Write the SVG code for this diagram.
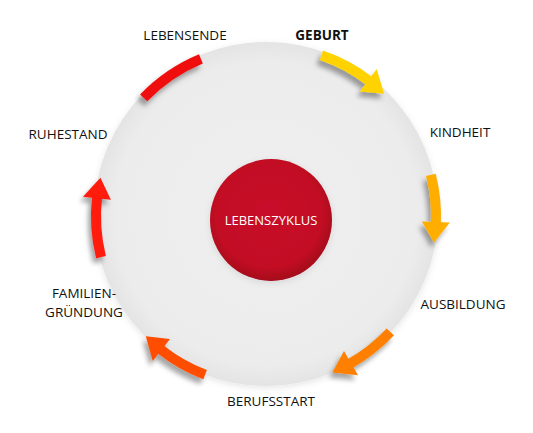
<svg xmlns="http://www.w3.org/2000/svg" width="533" height="433" viewBox="0 0 533 433">
<defs>
<radialGradient id="disc" cx="0.5" cy="0.5" r="0.5">
<stop offset="0" stop-color="#efefef"/>
<stop offset="0.88" stop-color="#ececec"/>
<stop offset="1" stop-color="#e4e4e4"/>
</radialGradient>
<radialGradient id="red" cx="0.48" cy="0.45" r="0.55">
<stop offset="0" stop-color="#c8102a"/>
<stop offset="0.8" stop-color="#c20d24"/>
<stop offset="1" stop-color="#a4071a"/>
</radialGradient>
<filter id="sh" x="-30%" y="-30%" width="160%" height="160%">
<feDropShadow dx="-3" dy="5" stdDeviation="2.5" flood-color="#000" flood-opacity="0.35"/>
</filter>
<filter id="soft" x="-20%" y="-20%" width="140%" height="140%">
<feDropShadow dx="0" dy="2" stdDeviation="3" flood-color="#000" flood-opacity="0.1"/>
</filter>
</defs>
<style>
.lbl{font-family:"Open Sans","Noto Sans","Liberation Sans",sans-serif;font-size:13.5px;fill:#111;text-anchor:middle}
.shaft{fill:none;stroke-width:10;stroke-linecap:butt}
</style>
<rect width="533" height="433" fill="#fff"/>
<g id="disc-node">
<circle cx="266" cy="214" r="172" fill="url(#disc)" filter="url(#soft)"/>
</g>
<g id="center">
<circle cx="271" cy="220" r="61" fill="url(#red)" filter="url(#soft)"/>
<text x="271" y="225" class="lbl" style="fill:#fff;font-size:13px">LEBENSZYKLUS</text>
</g>
<g id="connectors">
<g filter="url(#sh)" fill="#ffd200" stroke="#ffd200">
<path class="shaft" d="M321.4 55.3 A170 170 0 0 1 369.5 81.1"/>
<polygon stroke="none" points="359.9,91.4 376.7,69.1 384.1,93.7"/>
</g>
<g filter="url(#sh)" fill="#ffae00" stroke="#ffae00">
<path class="shaft" d="M430.9 174.9 A170 170 0 0 1 435.9 223.4"/>
<polygon stroke="none" points="421.9,221.4 449.9,222.4 433.9,242.6"/>
</g>
<g filter="url(#sh)" fill="#ff7f00" stroke="#ff7f00">
<path class="shaft" d="M390.3 331.9 A170 170 0 0 1 349.6 363.9"/>
<polygon stroke="none" points="344,351.1 358,375.3 332.4,372.5"/>
</g>
<g filter="url(#sh)" fill="#ff4d00" stroke="#ff4d00">
<path class="shaft" d="M205.1 374.7 A170 170 0 0 1 160.2 349.1"/>
<polygon stroke="none" points="170,338.9 152.7,361 145.8,336.2"/>
</g>
<g filter="url(#sh)" fill="#ff1a10" stroke="#ff1a10">
<path class="shaft" d="M101 257.1 A170 170 0 0 1 97.1 196.7"/>
<polygon stroke="none" points="110.9,199.7 83,196.8 100.4,177.8"/>
</g>
<g filter="url(#sh)" stroke="#f01010">
<path class="shaft" d="M143.7 97.9 A170 170 0 0 1 200.9 58.9"/>
</g>
</g>
<g id="geburt"><text x="322" y="40" class="lbl" style="font-weight:bold">GEBURT</text></g>
<g id="kindheit"><text x="460" y="137" class="lbl">KINDHEIT</text></g>
<g id="ausbildung"><text x="463" y="309" class="lbl">AUSBILDUNG</text></g>
<g id="berufsstart"><text x="271" y="406" class="lbl">BERUFSSTART</text></g>
<g id="familiengruendung"><text x="84" y="298" class="lbl">FAMILIEN-</text><text x="84" y="317" class="lbl">GRÜNDUNG</text></g>
<g id="ruhestand"><text x="68" y="139" class="lbl">RUHESTAND</text></g>
<g id="lebensende"><text x="185" y="40" class="lbl">LEBENSENDE</text></g>
</svg>
